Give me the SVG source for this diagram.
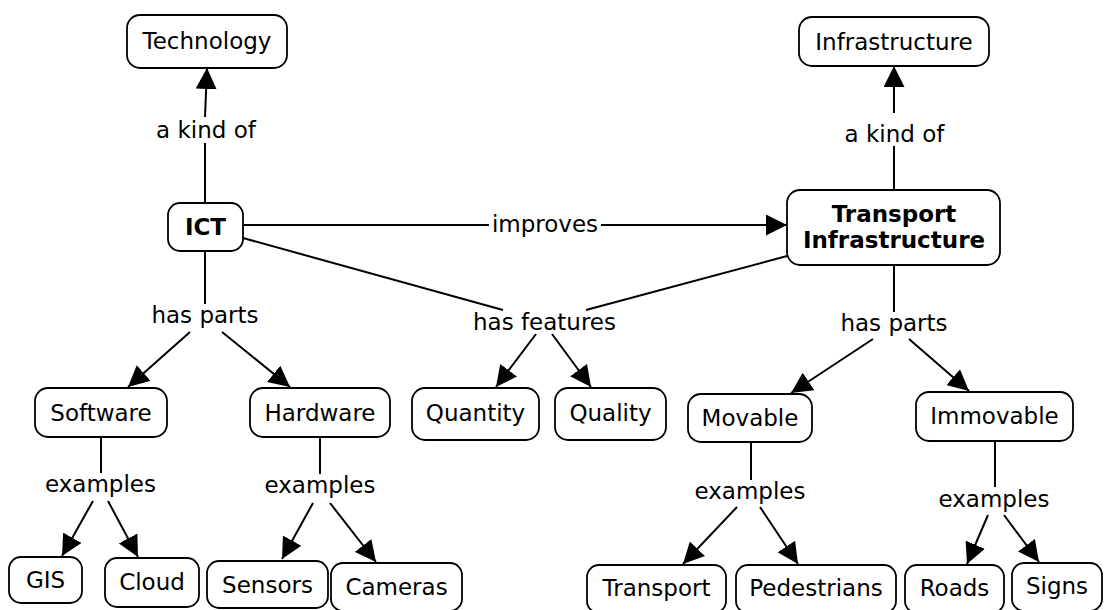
<svg xmlns="http://www.w3.org/2000/svg" width="1107" height="610" viewBox="0 0 1107 610">
<style>
.n rect{fill:#fff;stroke:#000;stroke-width:1.8}
text{font-family:"DejaVu Sans",Verdana,sans-serif;font-size:23px;fill:#000;text-anchor:middle}
.b{font-weight:bold}
#connectors line{stroke:#000;stroke-width:2}
.a{marker-end:url(#arr)}
</style>
<defs>
<marker id="arr" markerUnits="userSpaceOnUse" markerWidth="21" markerHeight="21" refX="21" refY="10.5" orient="auto" viewBox="0 0 21 21">
<path d="M0,0 L21,10.5 L0,21 Z" fill="#000"/>
</marker>
</defs>
<rect width="1107" height="610" fill="#fff"/>
<g id="connectors">
<line x1="205" y1="203" x2="205" y2="143"/>
<line class="a" x1="205" y1="117" x2="207" y2="68"/>
<line x1="894" y1="190" x2="894" y2="146"/>
<line class="a" x1="894" y1="113" x2="894" y2="66"/>
<line x1="243" y1="225" x2="489" y2="225"/>
<line class="a" x1="601" y1="225" x2="787" y2="225"/>
<line x1="243" y1="238" x2="503" y2="310"/>
<line x1="787" y1="256" x2="586" y2="310"/>
<line class="a" x1="536" y1="334" x2="496" y2="387"/>
<line class="a" x1="552" y1="334" x2="591" y2="387"/>
<line x1="205" y1="251" x2="205" y2="304"/>
<line class="a" x1="190" y1="332" x2="128" y2="387"/>
<line class="a" x1="222" y1="332" x2="290" y2="387"/>
<line x1="894" y1="265" x2="894" y2="312"/>
<line class="a" x1="873" y1="339" x2="791" y2="393"/>
<line class="a" x1="909" y1="339" x2="969" y2="391"/>
<line x1="101" y1="437" x2="101" y2="473"/>
<line class="a" x1="93" y1="501" x2="62" y2="556"/>
<line class="a" x1="108" y1="501" x2="138" y2="557"/>
<line x1="320" y1="437" x2="320" y2="474"/>
<line class="a" x1="313" y1="503" x2="282" y2="559"/>
<line class="a" x1="330" y1="503" x2="376" y2="562"/>
<line x1="751" y1="442" x2="751" y2="480"/>
<line class="a" x1="737" y1="507" x2="683" y2="564"/>
<line class="a" x1="760" y1="507" x2="798" y2="564"/>
<line x1="995" y1="441" x2="995" y2="487"/>
<line class="a" x1="988" y1="515" x2="967" y2="564"/>
<line class="a" x1="1004" y1="515" x2="1039" y2="562"/>
<text x="206" y="138">a kind of</text>
<text x="894.5" y="142">a kind of</text>
<text x="545" y="232">improves</text>
<text x="544.5" y="330">has features</text>
<text x="205" y="323">has parts</text>
<text x="894" y="331">has parts</text>
<text x="100.5" y="492">examples</text>
<text x="320" y="493">examples</text>
<text x="750" y="499">examples</text>
<text x="994" y="507">examples</text>
</g>
<g id="technology" class="n"><rect x="127" y="15" width="160" height="53" rx="13"/><text x="207" y="49">Technology</text></g>
<g id="infrastructure" class="n"><rect x="799" y="17" width="190" height="49" rx="13"/><text x="894" y="50">Infrastructure</text></g>
<g id="ict" class="n"><rect x="168" y="203" width="75" height="48" rx="12"/><text class="b" x="205.5" y="235">ICT</text></g>
<g id="transport-infrastructure" class="n"><rect x="787" y="190" width="213" height="75" rx="13"/><text class="b" x="894" y="222">Transport</text><text class="b" x="894" y="248">Infrastructure</text></g>
<g id="software" class="n"><rect x="35" y="388" width="132" height="49" rx="13"/><text x="101" y="421">Software</text></g>
<g id="hardware" class="n"><rect x="250" y="388" width="140" height="49" rx="13"/><text x="320" y="421">Hardware</text></g>
<g id="quantity" class="n"><rect x="412" y="388" width="127" height="52" rx="13"/><text x="475.5" y="421">Quantity</text></g>
<g id="quality" class="n"><rect x="555" y="388" width="111" height="52" rx="13"/><text x="610.5" y="421">Quality</text></g>
<g id="movable" class="n"><rect x="688" y="394" width="124" height="48" rx="13"/><text x="750" y="426">Movable</text></g>
<g id="immovable" class="n"><rect x="916" y="392" width="157" height="49" rx="13"/><text x="994.5" y="424">Immovable</text></g>
<g id="gis" class="n"><rect x="9" y="557" width="73" height="46" rx="12"/><text x="45.5" y="588">GIS</text></g>
<g id="cloud" class="n"><rect x="105" y="558" width="94" height="49" rx="12"/><text x="152" y="590">Cloud</text></g>
<g id="sensors" class="n"><rect x="207" y="561" width="121" height="47" rx="12"/><text x="267.5" y="593">Sensors</text></g>
<g id="cameras" class="n"><rect x="331" y="563" width="131" height="48" rx="12"/><text x="396.5" y="595">Cameras</text></g>
<g id="transport" class="n"><rect x="587" y="565" width="139" height="48" rx="12"/><text x="656.5" y="596">Transport</text></g>
<g id="pedestrians" class="n"><rect x="736" y="565" width="160" height="48" rx="12"/><text x="816" y="596">Pedestrians</text></g>
<g id="roads" class="n"><rect x="905" y="565" width="99" height="48" rx="12"/><text x="954.5" y="596">Roads</text></g>
<g id="signs" class="n"><rect x="1012" y="563" width="90" height="48" rx="12"/><text x="1057" y="594">Signs</text></g>
</svg>
